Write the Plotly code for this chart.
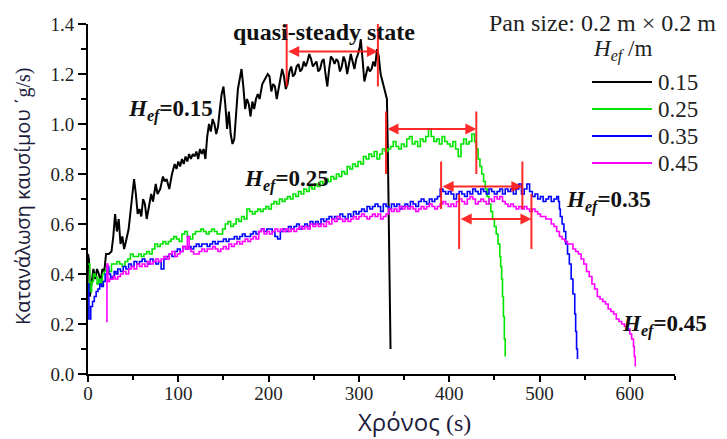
import plotly.graph_objects as go

# ---------------- fuel consumption rate (g/s) against time (s) ----------------
# H_ef = 0.15 m
t_015 = [0, 1, 2, 4, 6, 8, 10, 12, 14, 16, 18, 20, 23, 26, 28, 30, 32, 34, 36, 38,
         40, 42, 45, 48, 51, 53, 55, 57, 59, 61, 63, 65, 67, 70, 72, 75, 77, 80, 83, 85,
         87, 90, 93, 96, 98, 100, 102, 104, 106, 108, 110, 112, 114, 116, 118, 120, 122, 124, 126, 128,
         130, 132, 134, 136, 138, 140, 142, 144, 146, 148, 150, 152, 154, 156, 158, 160, 162, 164, 166, 168,
         170, 172, 174, 176, 178, 180, 182, 184, 186, 188, 190, 193, 196, 199, 201, 203, 205, 207, 209, 211,
         213, 215, 217, 219, 221, 223, 225, 227, 229, 231, 233, 235, 237, 239, 241, 243, 245, 247, 249, 251,
         253, 255, 257, 259, 261, 263, 265, 267, 269, 271, 273, 275, 277, 279, 281, 283, 285, 287, 289, 291,
         293, 295, 297, 299, 301, 302, 304, 306, 308, 310, 312, 314, 316, 318, 320, 322, 324, 326, 328, 330,
         331, 332, 333, 334, 335]
r_015 = [0.48, 0.46, 0.31, 0.36, 0.42, 0.38, 0.42, 0.40, 0.37, 0.42, 0.41, 0.48, 0.48, 0.49, 0.55, 0.64, 0.57, 0.62, 0.52, 0.55,
         0.50, 0.53, 0.58, 0.68, 0.78, 0.72, 0.64, 0.66, 0.63, 0.70, 0.68, 0.62, 0.66, 0.72, 0.69, 0.76, 0.72, 0.74, 0.79, 0.77,
         0.78, 0.74, 0.80, 0.84, 0.82, 0.85, 0.83, 0.86, 0.84, 0.87, 0.85, 0.88, 0.86, 0.88, 0.87, 0.89, 0.86, 0.90, 0.88, 0.90,
         0.86, 0.95, 1.00, 0.97, 1.02, 1.00, 0.96, 0.99, 1.06, 1.12, 1.15, 1.08, 0.98, 1.05, 0.96, 0.92, 0.94, 1.05, 1.14, 1.18,
         1.22, 1.15, 1.06, 1.10, 1.08, 1.03, 1.09, 1.06, 1.10, 1.12, 1.10, 1.16, 1.18, 1.20, 1.19, 1.13, 1.16, 1.15, 1.10, 1.14,
         1.18, 1.22, 1.19, 1.14, 1.16, 1.21, 1.23, 1.19, 1.20, 1.23, 1.24, 1.21, 1.22, 1.25, 1.23, 1.25, 1.28, 1.26, 1.23, 1.24,
         1.25, 1.21, 1.22, 1.25, 1.26, 1.20, 1.15, 1.22, 1.27, 1.26, 1.24, 1.26, 1.25, 1.21, 1.23, 1.27, 1.25, 1.20, 1.24, 1.28,
         1.25, 1.22, 1.26, 1.28, 1.31, 1.34, 1.26, 1.17, 1.20, 1.23, 1.21, 1.22, 1.25, 1.23, 1.30, 1.27, 1.20, 1.17, 1.14, 1.12,
         1.10, 0.90, 0.55, 0.25, 0.10]

# H_ef = 0.25 m
t_025 = [0, 2, 4, 6, 8, 10, 12, 14, 16, 18, 20, 23, 26, 29, 32, 35, 38, 41, 44, 47,
         50, 53, 56, 59, 62, 65, 68, 71, 74, 77, 80, 83, 86, 89, 92, 95, 98, 101, 104, 107,
         110, 113, 116, 119, 122, 125, 128, 131, 134, 137, 140, 143, 146, 149, 152, 155, 158, 161, 164, 167,
         170, 173, 176, 179, 182, 185, 188, 191, 194, 197, 200, 203, 206, 209, 212, 215, 218, 221, 224, 227,
         230, 233, 236, 239, 242, 245, 248, 251, 254, 257, 260, 263, 266, 269, 272, 275, 278, 281, 284, 287,
         290, 293, 296, 299, 302, 305, 308, 311, 314, 317, 320, 323, 326, 329, 332, 335, 338, 341, 344, 347,
         350, 353, 356, 359, 362, 365, 368, 371, 374, 377, 380, 383, 386, 389, 392, 395, 398, 401, 404, 407,
         410, 413, 416, 419, 422, 425, 428, 430, 432, 434, 436, 438, 440, 442, 444, 446, 448, 450, 452, 454,
         456, 457, 458, 459, 460, 461, 462]
r_025 = [0.44, 0.33, 0.37, 0.40, 0.39, 0.36, 0.38, 0.36, 0.40, 0.41, 0.42, 0.41, 0.44, 0.44, 0.45, 0.44, 0.43, 0.45, 0.46, 0.48,
         0.47, 0.47, 0.48, 0.47, 0.48, 0.49, 0.48, 0.50, 0.52, 0.51, 0.52, 0.53, 0.52, 0.53, 0.54, 0.55, 0.54, 0.53, 0.56, 0.57,
         0.55, 0.54, 0.56, 0.57, 0.57, 0.58, 0.57, 0.56, 0.57, 0.58, 0.57, 0.56, 0.56, 0.58, 0.60, 0.61, 0.59, 0.60, 0.62, 0.61,
         0.63, 0.62, 0.66, 0.65, 0.64, 0.65, 0.66, 0.65, 0.66, 0.67, 0.66, 0.68, 0.69, 0.68, 0.70, 0.69, 0.70, 0.71, 0.70, 0.72,
         0.71, 0.73, 0.72, 0.74, 0.73, 0.75, 0.74, 0.76, 0.75, 0.77, 0.76, 0.78, 0.77, 0.79, 0.78, 0.80, 0.79, 0.81, 0.80, 0.83,
         0.82, 0.84, 0.83, 0.85, 0.84, 0.87, 0.86, 0.88, 0.87, 0.89, 0.86, 0.88, 0.90, 0.89, 0.90, 0.91, 0.93, 0.91, 0.90, 0.92,
         0.91, 0.94, 0.95, 0.92, 0.93, 0.91, 0.94, 0.93, 0.95, 0.98, 0.95, 0.93, 0.94, 0.92, 0.95, 0.93, 0.92, 0.91, 0.93, 0.90,
         0.87, 0.92, 0.94, 0.92, 0.93, 0.96, 0.93, 0.90, 0.86, 0.83, 0.80, 0.77, 0.74, 0.71, 0.68, 0.65, 0.62, 0.59, 0.56, 0.52,
         0.47, 0.43, 0.38, 0.31, 0.23, 0.14, 0.07]

# H_ef = 0.35 m
t_035 = [0, 1, 3, 5, 7, 9, 11, 13, 15, 17, 19, 21, 23, 25, 27, 29, 31, 33, 36, 39,
         42, 45, 48, 51, 54, 57, 60, 63, 66, 69, 72, 75, 78, 81, 84, 87, 90, 93, 96, 99,
         102, 105, 108, 111, 114, 117, 120, 123, 126, 129, 132, 135, 138, 141, 144, 147, 150, 153, 156, 159,
         162, 165, 168, 171, 174, 177, 180, 183, 186, 189, 192, 195, 198, 201, 204, 207, 210, 213, 216, 219,
         222, 225, 228, 231, 234, 237, 240, 243, 246, 249, 252, 255, 258, 261, 264, 267, 270, 273, 276, 279,
         282, 285, 288, 291, 294, 297, 300, 303, 306, 309, 312, 315, 318, 321, 324, 327, 330, 333, 336, 339,
         342, 345, 348, 351, 354, 357, 360, 363, 366, 369, 372, 375, 378, 381, 384, 387, 390, 393, 396, 399,
         402, 405, 408, 411, 414, 417, 420, 423, 426, 429, 432, 435, 438, 441, 444, 447, 450, 453, 456, 459,
         462, 465, 468, 471, 474, 477, 480, 483, 486, 489, 492, 495, 498, 501, 504, 507, 510, 513, 516, 519,
         521, 522, 523, 525, 527, 529, 531, 533, 535, 537, 539, 540, 541, 542]
r_035 = [0.36, 0.22, 0.27, 0.29, 0.31, 0.33, 0.34, 0.36, 0.35, 0.37, 0.40, 0.43, 0.40, 0.38, 0.39, 0.41, 0.40, 0.42, 0.41, 0.43,
         0.42, 0.44, 0.43, 0.45, 0.44, 0.45, 0.46, 0.45, 0.44, 0.46, 0.45, 0.44, 0.45, 0.42, 0.46, 0.47, 0.48, 0.47, 0.49, 0.50,
         0.49, 0.51, 0.50, 0.51, 0.50, 0.51, 0.52, 0.51, 0.52, 0.52, 0.51, 0.52, 0.53, 0.52, 0.53, 0.53, 0.54, 0.53, 0.54, 0.54,
         0.55, 0.54, 0.55, 0.56, 0.55, 0.55, 0.56, 0.57, 0.56, 0.57, 0.58, 0.57, 0.58, 0.58, 0.57, 0.55, 0.54, 0.57, 0.58, 0.57,
         0.59, 0.58, 0.59, 0.60, 0.58, 0.59, 0.60, 0.59, 0.61, 0.60, 0.61, 0.60, 0.62, 0.61, 0.62, 0.63, 0.62, 0.63, 0.62, 0.64,
         0.63, 0.62, 0.64, 0.63, 0.65, 0.64, 0.65, 0.66, 0.65, 0.67, 0.66, 0.67, 0.68, 0.67, 0.65, 0.68, 0.67, 0.66, 0.68, 0.67,
         0.68, 0.66, 0.67, 0.68, 0.67, 0.69, 0.68, 0.67, 0.69, 0.70, 0.69, 0.68, 0.70, 0.69, 0.70, 0.71, 0.74, 0.73, 0.72, 0.73,
         0.72, 0.70, 0.72, 0.73, 0.72, 0.71, 0.73, 0.72, 0.74, 0.73, 0.72, 0.74, 0.73, 0.72, 0.74, 0.73, 0.72, 0.73, 0.74, 0.72,
         0.74, 0.73, 0.74, 0.72, 0.74, 0.76, 0.72, 0.74, 0.76, 0.73, 0.71, 0.72, 0.70, 0.71, 0.69, 0.70, 0.71, 0.69, 0.70, 0.71,
         0.69, 0.66, 0.63, 0.60, 0.57, 0.52, 0.48, 0.44, 0.38, 0.32, 0.24, 0.17, 0.10, 0.06]

# H_ef = 0.45 m
t_045 = [20, 21, 22, 24, 26, 28, 30, 33, 36, 39, 42, 45, 48, 51, 54, 57, 60, 63, 66, 69,
         72, 75, 78, 81, 84, 87, 90, 93, 96, 99, 102, 105, 108, 110, 112, 114, 117, 120, 123, 126,
         129, 132, 135, 138, 141, 144, 147, 150, 153, 156, 159, 162, 165, 168, 171, 174, 177, 180, 183, 186,
         189, 192, 195, 198, 201, 204, 207, 210, 213, 216, 219, 222, 225, 228, 231, 234, 237, 240, 243, 246,
         249, 252, 255, 258, 261, 264, 267, 270, 273, 276, 279, 282, 285, 288, 291, 294, 297, 300, 303, 306,
         309, 312, 315, 318, 321, 324, 327, 330, 333, 336, 339, 342, 345, 348, 351, 354, 357, 360, 363, 366,
         369, 372, 375, 378, 381, 384, 387, 390, 393, 396, 399, 402, 405, 408, 411, 414, 417, 420, 423, 426,
         429, 432, 435, 438, 441, 444, 447, 450, 453, 456, 459, 462, 465, 468, 471, 474, 477, 480, 483, 486,
         489, 492, 495, 498, 501, 504, 507, 510, 513, 516, 519, 522, 525, 528, 531, 534, 537, 540, 543, 546,
         549, 552, 555, 558, 561, 564, 567, 570, 573, 576, 579, 582, 585, 588, 591, 594, 597, 600, 602, 604,
         605, 606]
r_045 = [0.21, 0.44, 0.37, 0.38, 0.38, 0.39, 0.38, 0.39, 0.40, 0.41, 0.40, 0.42, 0.43, 0.42, 0.44, 0.43, 0.44, 0.43, 0.45, 0.44,
         0.45, 0.46, 0.45, 0.46, 0.47, 0.46, 0.48, 0.49, 0.47, 0.48, 0.49, 0.51, 0.50, 0.55, 0.50, 0.49, 0.48, 0.48, 0.49, 0.50,
         0.49, 0.50, 0.50, 0.51, 0.50, 0.49, 0.50, 0.51, 0.50, 0.52, 0.51, 0.52, 0.53, 0.52, 0.53, 0.54, 0.53, 0.54, 0.55, 0.54,
         0.57, 0.58, 0.56, 0.57, 0.56, 0.57, 0.58, 0.57, 0.58, 0.57, 0.58, 0.57, 0.58, 0.57, 0.58, 0.59, 0.58, 0.59, 0.58, 0.60,
         0.59, 0.60, 0.59, 0.60, 0.59, 0.61, 0.60, 0.62, 0.61, 0.63, 0.62, 0.61, 0.62, 0.61, 0.62, 0.63, 0.62, 0.63, 0.64, 0.63,
         0.62, 0.63, 0.64, 0.63, 0.64, 0.62, 0.63, 0.64, 0.66, 0.65, 0.66, 0.65, 0.67, 0.66, 0.67, 0.66, 0.67, 0.66, 0.65, 0.66,
         0.67, 0.66, 0.67, 0.68, 0.67, 0.66, 0.67, 0.68, 0.69, 0.68, 0.67, 0.68, 0.67, 0.69, 0.70, 0.69, 0.68, 0.70, 0.71, 0.70,
         0.68, 0.69, 0.70, 0.69, 0.68, 0.70, 0.69, 0.71, 0.70, 0.71, 0.69, 0.68, 0.67, 0.68, 0.67, 0.66, 0.67, 0.66, 0.67, 0.66,
         0.65, 0.66, 0.65, 0.64, 0.63, 0.63, 0.62, 0.62, 0.60, 0.59, 0.57, 0.55, 0.54, 0.53, 0.52, 0.52, 0.50, 0.49, 0.48, 0.46,
         0.44, 0.41, 0.39, 0.36, 0.34, 0.31, 0.30, 0.29, 0.28, 0.26, 0.25, 0.24, 0.22, 0.21, 0.20, 0.19, 0.18, 0.16, 0.14, 0.11,
         0.07, 0.03]

heights = ["0.15", "0.25", "0.35", "0.45"]
colors = ["#000000", "#00e400", "#0000ff", "#ff00ff"]
widths = [2.0, 1.6, 1.6, 1.6]
shapes_line = ["linear", "hv", "hv", "hv"]
times = [t_015, t_025, t_035, t_045]
rates = [r_015, r_025, r_035, r_045]

# quasi-steady windows (s) and the level of their double arrows (g/s)
qs_start = [220, 330, 391, 411]
qs_end = [321, 430, 481, 491]
qs_level = [1.29, 0.98, 0.75, 0.62]
qs_low = [1.15, 0.80, 0.66, 0.50]
qs_high = [1.40, 1.05, 0.85, 0.72]

# curve labels: left edge time, vertical centre rate
label_t = [42, 170, 527, 589]
label_r = [1.056, 0.776, 0.692, 0.196]

SERIF = "Liberation Serif, Times New Roman, serif"
SANS = "Open Sans, Noto Sans, sans-serif"
RED = "rgba(255,20,20,0.9)"

fig = go.Figure()

for t, r, c, w, s, h in zip(times, rates, colors, widths, shapes_line, heights):
    fig.add_trace(go.Scatter(x=t, y=r, mode="lines", name=h, line=dict(color=c, width=w, shape=s),
                             showlegend=False))

annotations = []
for a, b, lv, lo, hi in zip(qs_start, qs_end, qs_level, qs_low, qs_high):
    for xv in (a, b):
        fig.add_trace(go.Scatter(x=[xv, xv], y=[lo, hi], mode="lines",
                                 line=dict(color=RED, width=2), showlegend=False, hoverinfo="skip"))
    annotations.append(dict(x=b, y=lv, ax=a, ay=lv, xref="x", yref="y", axref="x", ayref="y",
                            text="", showarrow=True, arrowhead=2, arrowsize=1.1, arrowwidth=2,
                            arrowcolor=RED, arrowside="end+start", standoff=0, startstandoff=0))

annotations.append(dict(x=261, y=1.37, xref="x", yref="y",
                        text="<b>quasi-steady state</b>", showarrow=False,
                        font=dict(family=SERIF, size=24, color="#111")))

for h, lt, lr in zip(heights, label_t, label_r):
    annotations.append(dict(x=lt, y=lr, xref="x", yref="y", xanchor="left", yanchor="middle",
                            text=f"<b><i>H</i></b><sub><b><i>ef</i></b></sub><b>={h}</b>",
                            showarrow=False, font=dict(family=SERIF, size=23, color="#111")))

# plot-area geometry in pixels, used to place the key
L, R, T, B = 88, 675, 24, 374


def px(xp):
    return (xp - L) / (R - L)


def py(yp):
    return (B - yp) / (B - T)


annotations.append(dict(x=px(718), y=py(23), xref="paper", yref="paper", xanchor="right", yanchor="middle",
                        text="Pan size: 0.2 m × 0.2 m", showarrow=False,
                        font=dict(family=SERIF, size=24, color="#222")))
annotations.append(dict(x=px(591), y=py(50), xref="paper", yref="paper", xanchor="left", yanchor="middle",
                        text="<i>H</i><sub><i>ef</i></sub> /m", showarrow=False,
                        font=dict(family=SERIF, size=23, color="#222")))

shapes = []
for i, (h, c) in enumerate(zip(heights, colors)):
    yk = 82 + 27 * i
    shapes.append(dict(type="line", xref="paper", yref="paper", x0=px(592), x1=px(652),
                       y0=py(yk), y1=py(yk), line=dict(color=c, width=2)))
    annotations.append(dict(x=px(656), y=py(yk), xref="paper", yref="paper", xanchor="left",
                            yanchor="middle", text=h, showarrow=False,
                            font=dict(family=SERIF, size=23, color="#222")))

# axis titles
annotations.append(dict(x=px(414), y=py(421), xref="paper", yref="paper", xanchor="center", yanchor="middle",
                        text="Χρόνος <span style='font-family:Liberation Serif'>(s)</span>", showarrow=False,
                        font=dict(family=SANS, size=24, color="#1c1c3c")))
annotations.append(dict(x=px(22), y=py(197), xref="paper", yref="paper", xanchor="center", yanchor="middle",
                        textangle=-90,
                        text="Κατανάλωση καυσίμου <span style='font-family:Liberation Serif'>΄g/s)</span>",
                        showarrow=False, font=dict(family=SANS, size=20, color="#1c1c3c")))

fig.update_layout(
    width=727, height=439,
    margin=dict(l=L, r=727 - R, t=T, b=439 - B),
    plot_bgcolor="white", paper_bgcolor="white",
    annotations=annotations, shapes=shapes,
    xaxis=dict(range=[0, 650], dtick=100, tick0=0, showgrid=False, zeroline=False,
               showline=True, linecolor="black", linewidth=2, ticks="outside", ticklen=6,
               tickwidth=2, tickcolor="black", ticklabelstandoff=-5,
               minor=dict(dtick=50, ticks="outside", ticklen=4, tickwidth=2, tickcolor="black"),
               tickfont=dict(family=SERIF, size=19, color="#222")),
    yaxis=dict(range=[0, 1.4], dtick=0.2, tick0=0, tickformat=".1f", showgrid=False, zeroline=False,
               showline=True, linecolor="black", linewidth=2, ticks="outside", ticklen=8,
               tickwidth=2, tickcolor="black",
               minor=dict(dtick=0.1, ticks="outside", ticklen=5, tickwidth=2, tickcolor="black"),
               tickfont=dict(family=SERIF, size=19, color="#222")),
)

fig.write_html("out.html")
